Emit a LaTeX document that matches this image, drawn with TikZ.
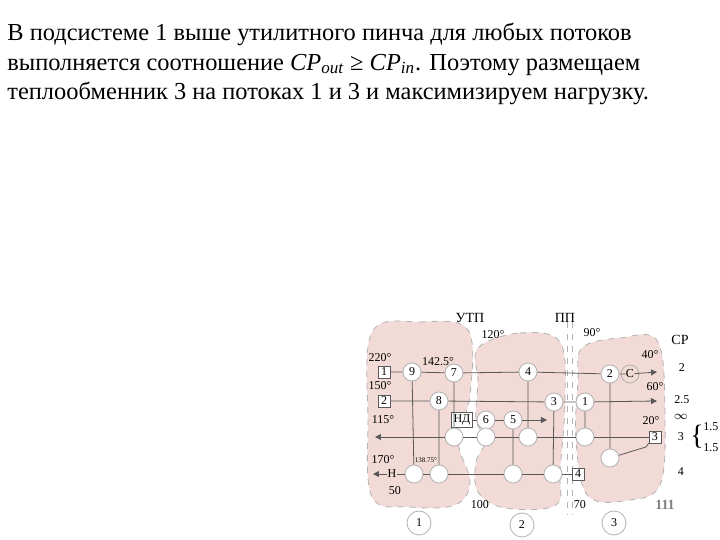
\documentclass[tikz,border=0pt]{standalone}
\usepackage{fontspec}
\setmainfont{Liberation Serif}
\usetikzlibrary{arrows.meta}
\begin{document}
\begin{tikzpicture}[x=0.5pt,y=-0.5pt,
 blob/.style={fill=blobc,draw=gray!60,dashed,line width=0.4pt},
 ln/.style={draw=gray!70!black,line width=0.4pt},
 hx/.style={circle,draw=gray!60,fill=white,inner sep=0pt,minimum size=9pt,font=\fontsize{6}{6}\selectfont},
 hb/.style={circle,draw=gray!60,fill=white,inner sep=0pt,minimum size=9pt},
 bx/.style={rectangle,draw=gray!70!black,fill=white,inner sep=1pt,minimum size=6pt,font=\fontsize{6}{6}\selectfont},
 lb/.style={font=\fontsize{6}{6}\selectfont,inner sep=0pt},
 ar/.style={-{Triangle[length=3pt,width=3pt]}}]
\definecolor{blobc}{RGB}{242,218,214}
\useasboundingbox (0,0) rectangle (720,540);
\node[anchor=west,align=left,inner sep=0pt,font=\fontsize{12.2}{14.6}\selectfont] (txt) at (7,64)
{В подсистеме 1 выше утилитного пинча для любых потоков\\
выполняется соотношение \textit{CP}$_{\mathit{out}}$ ≥ \textit{CP}$_{\mathit{in}}$. Поэтому размещаем\\
теплообменник 3 на потоках 1 и 3 и максимизируем нагрузку.};
% blobs
\draw[blob] plot[smooth cycle,tension=0.6] coordinates {(372,332)(420,322)(468,330)(470,395)(458,440)(470,482)(455,505)(410,507)(372,497)(368,420)};
\draw[blob] plot[smooth cycle,tension=0.6] coordinates {(478,348)(520,333)(560,342)(565,400)(560,470)(556,505)(505,508)(478,492)(476,462)(486,440)(476,420)(478,382)};
\draw[blob] plot[smooth cycle,tension=0.6] coordinates {(582,348)(620,338)(658,342)(665,420)(660,485)(630,500)(588,496)(576,440)(578,382)};
\draw[gray!60,dashed,line width=0.4pt] (567,322)--(567,515) (572,322)--(572,515);
% stream nodes
\node[bx] (s1) at (384,372) {1};
\node[bx] (s2) at (384,401) {2};
\node[bx] (s3) at (655,437) {3};
\node[bx] (s4) at (578,474) {4};
\node[bx] (nd) at (462,420) {НД};
\node[lb] (H) at (392,474) {Н};
\node[lb] (C) at (630,374) {C};
\draw[gray!60] (C) circle (4.5pt);
\node[hx] (e9) at (412,372) {9};
\node[hx] (e7) at (454,373) {7};
\node[hx] (e4) at (528,372) {4};
\node[hx] (e2) at (610,374) {2};
\node[hx] (e8) at (439,401) {8};
\node[hx] (e3) at (554,402) {3};
\node[hx] (e1) at (585,402) {1};
\node[hx] (e6) at (486,420) {6};
\node[hx] (e5) at (513,420) {5};
\node[hb] (c7) at (454,437) {};
\node[hb] (c6) at (486,437) {};
\node[hb] (c4) at (528,437) {};
\node[hb] (c1) at (585,437) {};
\node[hb] (c2) at (610,458) {};
\node[hb] (c9) at (414,474) {};
\node[hb] (c8) at (439,474) {};
\node[hb] (c5) at (513,474) {};
\node[hb] (c3) at (553,474) {};
\coordinate (o1) at (657,372);
\coordinate (o2) at (657,401);
\coordinate (o6) at (547,420);
\coordinate (o3) at (375,437);
\coordinate (o4) at (373,474);
% streams
\draw[ln] (s1)--(e9)--(e7)--(e4)--(e2)--(C);
\draw[ln,ar] (C)--(o1);
\draw[ln] (s2)--(e8)--(e3)--(e1);
\draw[ln,ar] (e1)--(o2);
\draw[ln] (nd)--(e6)--(e5);
\draw[ln,ar] (e5)--(o6);
\draw[ln] (s3)--(c1)--(c4)--(c6)--(c7);
\draw[ln,ar] (c7)--(o3);
\draw[ln] (s4)--(c3)--(c5)--(c8)--(c9)--(H);
\draw[ln,ar] (H)--(o4);
\draw[ln] (s3.south west)--(646,447)--(c2);
% verticals
\draw[ln] (e9)--(c9) (e8)--(c8) (e7)--(c7) (e4)--(c4) (e5)--(c5) (e3)--(c3) (e1)--(c1) (e2)--(c2);
% labels
\node[lb,font=\fontsize{7}{7}\selectfont] (l1) at (470,318) {УТП};
\node[lb,font=\fontsize{7}{7}\selectfont] (l2) at (565,318) {ПП};
\node[lb] at (493,335) {120°};
\node[lb] at (592,333) {90°};
\node[lb,font=\fontsize{7}{7}\selectfont] at (680,340) {CP};
\node[lb] at (650,355) {40°};
\node[lb] at (682,368) {2};
\node[lb] at (655,387) {60°};
\node[lb] at (682,400) {2.5};
\node[lb] at (681,417) {$\infty$};
\node[lb] at (651,421) {20°};
\node[lb] at (681,437) {3};
\node[lb] at (681,472) {4};
\node[lb,font=\fontsize{7}{7}\selectfont,text=gray] at (665,505) {\textbf{111}};
\node[lb] at (480,505) {100};
\node[lb] at (580,505) {70};
\node[lb] at (395,491) {50};
\node[lb] at (380,358) {220°};
\node[lb] at (438,362) {142.5°};
\node[lb] at (380,386) {150°};
\node[lb] at (383,420) {115°};
\node[lb] at (383,460) {170°};
\node[lb,font=\fontsize{3.5}{4}\selectfont] at (426,460) {138.75°};
\node[lb,font=\fontsize{14}{14}\selectfont] at (697,437) {\{};
\node[lb,anchor=west] at (703,427) {1.5};
\node[lb,anchor=west] at (703,448) {1.5};
\node[hb,minimum size=12pt,font=\fontsize{6}{6}\selectfont] (g1) at (419,523) {1};
\node[hb,minimum size=12pt,font=\fontsize{6}{6}\selectfont] (g2) at (522,525) {2};
\node[hb,minimum size=12pt,font=\fontsize{6}{6}\selectfont] (g3) at (614,523) {3};
\end{tikzpicture}
\end{document}
